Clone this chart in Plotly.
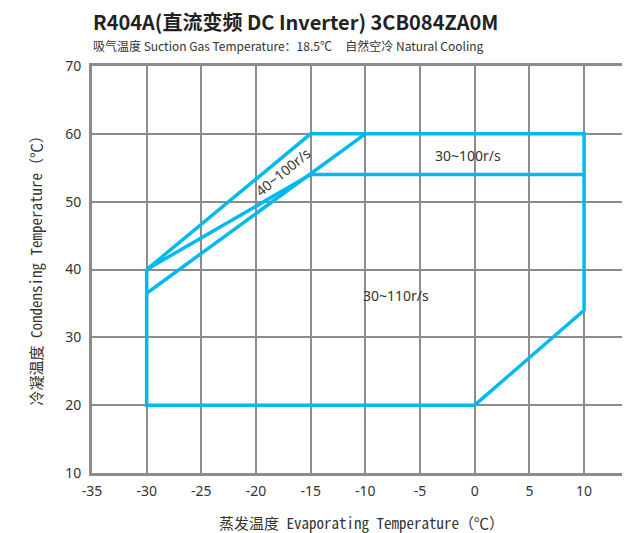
import plotly.graph_objects as go

# Envelope data (evaporating temp, condensing temp)
outer_x = [-30, -15, 10, 10, 0, -30, -30]
outer_y = [40, 60, 60, 34, 20, 20, 40]
inner1_x = [-30, -10]
inner1_y = [36.5, 60]
inner2_x = [-30, -15, 10]
inner2_y = [40, 54, 54]

labels = ["40~100r/s", "30~100r/s", "30~110r/s"]
label_x = [-17.5, -0.6, -7.2]
label_y = [54.4, 56.8, 36.1]
label_angle = [-39.5, 0, 0]

x_ticks = [-35, -30, -25, -20, -15, -10, -5, 0, 5, 10]
y_ticks = [10, 20, 30, 40, 50, 60, 70]

LINE = "#00B9EF"
GRID = "#8c8c8c"
MONO = "Noto Sans Mono CJK SC, DejaVu Sans Mono, monospace"

fig = go.Figure()
for xs, ys in [(outer_x, outer_y), (inner1_x, inner1_y), (inner2_x, inner2_y)]:
    fig.add_trace(go.Scatter(x=xs, y=ys, mode="lines",
                             line=dict(color=LINE, width=3.5),
                             hoverinfo="skip", showlegend=False))

for t, x, y, a in zip(labels, label_x, label_y, label_angle):
    fig.add_annotation(x=x, y=y, text=t, showarrow=False, textangle=a,
                       font=dict(size=14, color="#333333", family="Noto Sans"))

fig.add_annotation(xref="paper", yref="paper", x=0, y=1.0, yshift=45, xshift=-1,
                   xanchor="left", yanchor="middle", showarrow=False,
                   text="<b>R404A(直流变频 DC Inverter) 3CB084ZA0M</b>",
                   font=dict(size=20, color="#222222", family="Noto Sans CJK SC"))
fig.add_annotation(xref="paper", yref="paper", x=0, y=1.0, yshift=21, xshift=-1,
                   xanchor="left", yanchor="middle", showarrow=False,
                   text="吸气温度 Suction Gas Temperature：18.5℃&nbsp;&nbsp;&nbsp;&nbsp;&nbsp;自然空冷 Natural Cooling",
                   font=dict(size=12, color="#333333", family="Noto Sans CJK SC"))
fig.add_annotation(xref="paper", yref="paper", x=0.5, y=0, yshift=-49,
                   xanchor="center", yanchor="middle", showarrow=False,
                   text="蒸发温度 Evaporating Temperature（℃）",
                   font=dict(size=15, color="#333333", family=MONO))
fig.add_annotation(xref="paper", yref="paper", x=0, y=0.5, xshift=-57, yshift=3,
                   xanchor="center", yanchor="middle", showarrow=False, textangle=-90,
                   text="冷凝温度 Condensing Temperature（℃）",
                   font=dict(size=15, color="#333333", family=MONO))

fig.update_layout(
    width=622, height=525,
    margin=dict(l=84, r=0, t=58, b=60),
    plot_bgcolor="white", paper_bgcolor="white",
    xaxis=dict(range=[-35, 14.2], tickvals=x_ticks, ticktext=[str(v) for v in x_ticks],
               showgrid=True, gridcolor=GRID, gridwidth=2, zeroline=False,
               showline=True, linecolor=GRID, linewidth=3, mirror=True,
               ticklabelstandoff=3,
               ticks="", tickfont=dict(size=14, color="#333333", family="Noto Sans")),
    yaxis=dict(range=[10, 70], tickvals=y_ticks, ticktext=[str(v) for v in y_ticks],
               showgrid=True, gridcolor=GRID, gridwidth=2, zeroline=False,
               showline=True, linecolor=GRID, linewidth=3, ticklabelstandoff=5,
               ticks="", tickfont=dict(size=14, color="#333333", family="Noto Sans")),
)

fig.write_html("out.html")
